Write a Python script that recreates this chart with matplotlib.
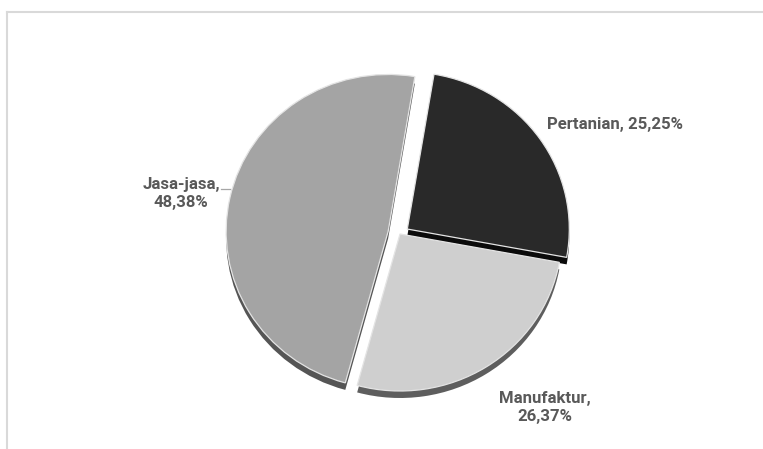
import matplotlib.pyplot as plt
from matplotlib.transforms import Affine2D
from matplotlib.lines import Line2D

sektor = ['Pertanian', 'Manufaktur', 'Jasa-jasa']
persen = [25.25, 26.37, 48.38]
warna = ['#292929', '#cfcfcf', '#a4a4a4']
warna_sisi = ['#0b0b0b', '#5e5e5e', '#555555']
explode = [0.055, 0.0, 0.075]

W, H = 763, 449
fig = plt.figure(figsize=(W / 100, H / 100), dpi=100)
ax = fig.add_axes([0, 0, 1, 1])

# pie centre and radii in pixel units (y grows downward)
cx, cy = 400, 234
rx, ry = 162, 157
tebal = 7


def bentuk(dy=0):
    return Affine2D().scale(rx, -ry).translate(cx, cy + dy) + ax.transData


# side walls first, then the top faces
sisi, _ = ax.pie(persen, colors=warna_sisi, explode=explode, startangle=80.5,
                 counterclock=False, wedgeprops=dict(linewidth=0))
for w in sisi:
    w.set_transform(bentuk(tebal))
    w.set_zorder(1)

atas, _ = ax.pie(persen, colors=warna, explode=explode, startangle=80.5,
                 counterclock=False,
                 wedgeprops=dict(edgecolor='#e4e4e4', linewidth=0.9))
for w in atas:
    w.set_transform(bentuk())
    w.set_zorder(2)

ax.set_aspect('auto')
ax.set_xlim(0, W)
ax.set_ylim(H, 0)
ax.axis('off')

teks = [f"{s}, {p:.2f}%".replace('.', ',') for s, p in zip(sektor, persen)]
gaya = dict(fontsize=12.1, fontweight='bold', color='#595959',
            family='Roboto', zorder=5)
ax.text(547, 124, teks[0], ha='left', va='center', **gaya)
ax.text(545, 408, teks[1].replace(' ', '\n'), ha='center', va='center',
        multialignment='center', linespacing=1.25, **gaya)
ax.text(181, 193, teks[2].replace(' ', '\n'), ha='center', va='center',
        multialignment='center', linespacing=1.25, **gaya)
ax.plot([221, 230], [189, 189], color='#a6a6a6', lw=0.9, zorder=3)

# chart area border (top and left)
fig.add_artist(Line2D([7 / W, 1], [1 - 12 / H, 1 - 12 / H], color='#d9d9d9',
                      lw=1.5, transform=fig.transFigure))
fig.add_artist(Line2D([7 / W, 7 / W], [0, 1 - 12 / H], color='#d9d9d9',
                      lw=1.5, transform=fig.transFigure))

fig.savefig('out.png', dpi=100)
